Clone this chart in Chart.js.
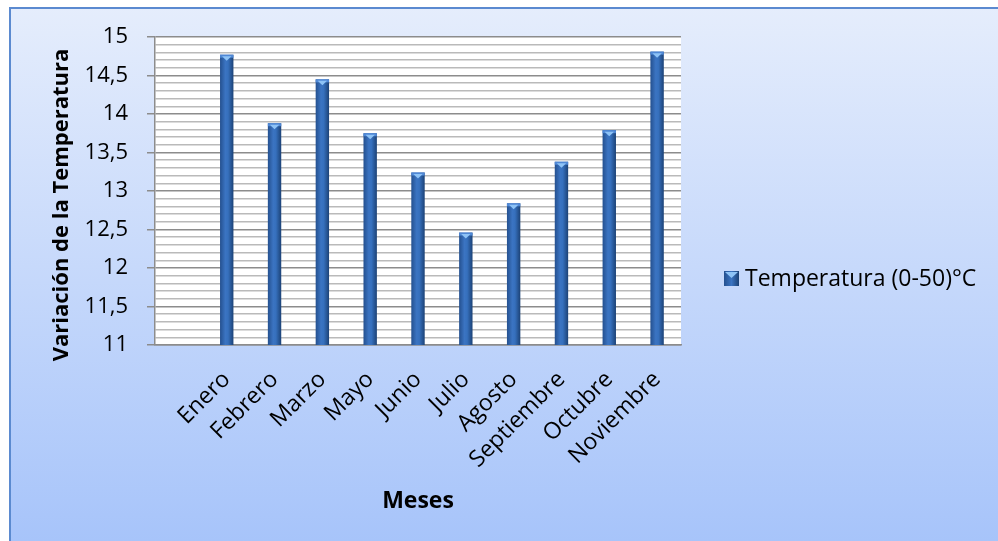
<!DOCTYPE html>
<html>
<head>
<meta charset="utf-8">
<script src="https://cdn.jsdelivr.net/npm/chart.js@4.4.0/dist/chart.umd.min.js"></script>
<style>
  html, body { margin: 0; padding: 0; background: #ffffff; }
  #wrap { width: 998px; height: 541px; }
</style>
</head>
<body>
<div id="wrap"><canvas id="grafico" width="998" height="541"></canvas></div>
<script>
// datos del grafico
const meses = ["", "Enero", "Febrero", "Marzo", "Mayo", "Junio", "Julio", "Agosto", "Septiembre", "Octubre", "Noviembre"];
const temperaturas = [null, 14.77, 13.88, 14.45, 13.75, 13.24, 12.46, 12.84, 13.38, 13.79, 14.81];
const nombreSerie = "Temperatura (0-50)°C";
const tituloY = "Variación de la Temperatura";
const tituloX = "Meses";
const ejeY = { min: 11, max: 15, paso: 0.1 };

const fuente = "'Open Sans', 'Noto Sans', sans-serif";

function esMayor(v) {
    return Math.abs(v * 2 - Math.round(v * 2)) < 1e-6;
}

// fondo con degradado y marco
const fondo = {
    id: "fondo",
    beforeDraw(chart) {
        const ctx = chart.ctx;
        ctx.save();
        const g = ctx.createLinearGradient(0, 7, 0, 541);
        g.addColorStop(0, "#e5edfc");
        g.addColorStop(1, "#a7c4fa");
        ctx.fillStyle = g;
        ctx.fillRect(9, 7, 998 - 9, 541 - 7);
        ctx.strokeStyle = "#5b8ad0";
        ctx.lineWidth = 2;
        ctx.beginPath();
        ctx.moveTo(10, 545);
        ctx.lineTo(10, 8);
        ctx.lineTo(1000, 8);
        ctx.stroke();
        const a = chart.chartArea;
        ctx.fillStyle = "#ffffff";
        ctx.fillRect(a.left, a.top, a.right - a.left, a.bottom - a.top);

        // titulo del eje Y
        ctx.translate(62, 205);
        ctx.rotate(-Math.PI / 2);
        ctx.fillStyle = "#000000";
        ctx.font = "bold 22px " + fuente;
        ctx.textAlign = "center";
        ctx.textBaseline = "middle";
        ctx.fillText(tituloY, 0, 0);
        ctx.restore();
    }
};

// barras tipo cilindro + leyenda
const cilindros = {
    id: "cilindros",
    afterDatasetsDraw(chart) {
        const ctx = chart.ctx;
        const meta = chart.getDatasetMeta(0);
        const abajo = chart.scales.y.getPixelForValue(ejeY.min);
        ctx.save();
        meta.data.forEach((bar, i) => {
            if (temperaturas[i] === null) return;
            const w = bar.width;
            const x0 = bar.x - w / 2;
            const top = bar.y;
            const g = ctx.createLinearGradient(x0, 0, x0 + w, 0);
            g.addColorStop(0, "#24508f");
            g.addColorStop(0.4, "#3b74c2");
            g.addColorStop(0.6, "#3670bd");
            g.addColorStop(1, "#1c4276");
            ctx.fillStyle = g;
            ctx.fillRect(x0, top, w, abajo - top);
            ctx.fillStyle = "#4f88d6";
            ctx.fillRect(x0, top, w, 3);
            ctx.fillStyle = "#8ec3f6";
            ctx.beginPath();
            ctx.moveTo(x0 + 2, top + 1.5);
            ctx.lineTo(x0 + w - 2, top + 1.5);
            ctx.lineTo(bar.x, top + 6);
            ctx.closePath();
            ctx.fill();
        });

        // leyenda
        const lx = 724, ly = 271;
        const g2 = ctx.createLinearGradient(lx, 0, lx + 15, 0);
        g2.addColorStop(0, "#24508f");
        g2.addColorStop(0.5, "#3b74c2");
        g2.addColorStop(1, "#1c4276");
        ctx.fillStyle = g2;
        ctx.fillRect(lx, ly, 15, 15);
        ctx.fillStyle = "#8ec3f6";
        ctx.beginPath();
        ctx.moveTo(lx + 1, ly + 1);
        ctx.lineTo(lx + 14, ly + 1);
        ctx.lineTo(lx + 7.5, ly + 7);
        ctx.closePath();
        ctx.fill();
        ctx.fillStyle = "#000000";
        ctx.font = "23px " + fuente;
        ctx.textBaseline = "middle";
        ctx.textAlign = "left";
        ctx.fillText(nombreSerie, 745, ly + 8);
        ctx.restore();
    }
};

window.addEventListener("DOMContentLoaded", () => {
    const ctx = document.getElementById("grafico").getContext("2d");

    new Chart(ctx, {
        type: "bar",
        data: {
            labels: meses,
            datasets: [{
                label: nombreSerie,
                data: temperaturas,
                backgroundColor: "rgba(0,0,0,0)",
                borderWidth: 0,
                categoryPercentage: 1,
                barPercentage: 0.28
            }]
        },
        options: {
            responsive: false,
            animation: false,
            layout: { padding: { left: 0, top: 37, right: 998 - 681, bottom: 0 } },
            plugins: {
                legend: { display: false },
                tooltip: { enabled: false }
            },
            scales: {
                x: {
                    grid: { display: false },
                    border: { display: true, color: "#8c8c8c", width: 1.5 },
                    ticks: {
                        color: "#000000",
                        font: { family: fuente, size: 23 },
                        minRotation: 45,
                        maxRotation: 45,
                        padding: 13,
                        autoSkip: false
                    },
                    title: {
                        display: true,
                        text: tituloX,
                        color: "#000000",
                        font: { family: fuente, size: 23, weight: "bold" },
                        padding: { top: 0, bottom: 26 }
                    },
                    afterFit(scale) { scale.height = 541 - 345; }
                },
                y: {
                    min: ejeY.min,
                    max: ejeY.max,
                    grid: {
                        color: c => esMayor(c.tick.value) ? "#8c8c8c" : "#bababa",
                        lineWidth: 1.5,
                        tickColor: c => esMayor(c.tick.value) ? "#8c8c8c" : "rgba(0,0,0,0)",
                        tickLength: 8
                    },
                    border: { display: true, color: "#8c8c8c", width: 1.5 },
                    ticks: {
                        stepSize: ejeY.paso,
                        autoSkip: false,
                        color: "#000000",
                        font: { family: fuente, size: 22 },
                        padding: 19,
                        callback: v => esMayor(v) ? (Math.round(v * 2) / 2).toString().replace(".", ",") : ""
                    },
                    title: { display: false },
                    afterFit(scale) { scale.width = 155; }
                }
            }
        },
        plugins: [fondo, cilindros]
    });
});
</script>
</body>
</html>
